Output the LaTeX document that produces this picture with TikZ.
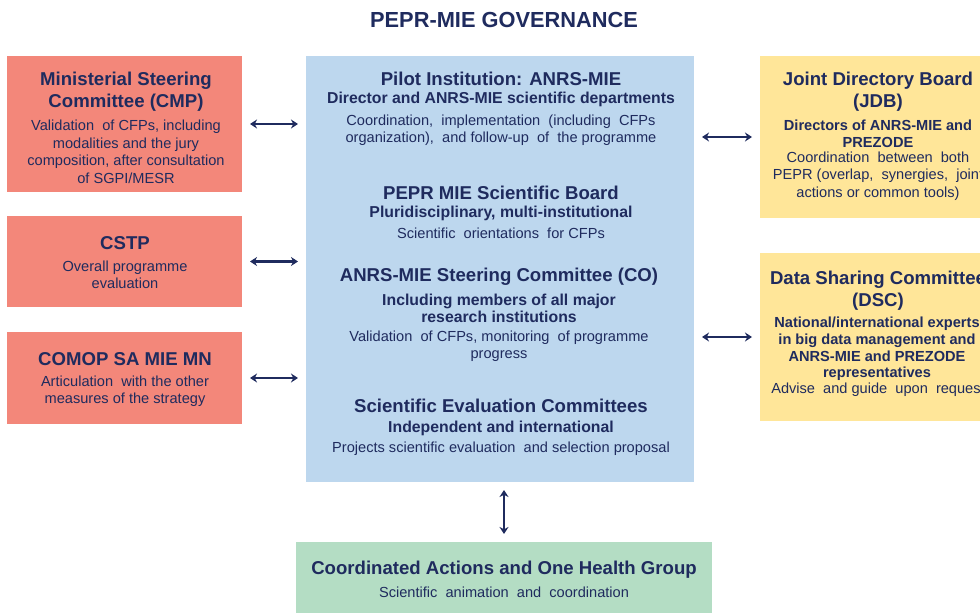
\documentclass[tikz,border=0pt]{standalone}
\usepackage{fontspec}
\setmainfont{Liberation Sans}
\usetikzlibrary{arrows.meta}

\definecolor{navy}{HTML}{1F2B5E}
\definecolor{salmon}{HTML}{F3877A}
\definecolor{paleblue}{HTML}{BDD7EE}
\definecolor{paleyellow}{HTML}{FFE699}
\definecolor{mint}{HTML}{B4DDC4}

\tikzset{
  box/.style={rectangle, inner sep=0pt, outer sep=0pt, anchor=north west},
  head/.style={text=navy, align=center, inner sep=0pt, font=\bfseries\fontsize{18.6}{22}\selectfont},
  sub/.style={text=navy, align=center, inner sep=0pt, font=\bfseries\fontsize{15.8}{16.7}\selectfont},
  smallsub/.style={sub, font=\bfseries\fontsize{14.6}{16.7}\selectfont},
  body/.style={text=navy, align=center, inner sep=0pt, font=\fontsize{14.6}{17.5}\selectfont},
  link/.style={navy, line width=2.2pt, {Stealth[length=7pt,width=9pt]}-{Stealth[length=7pt,width=9pt]}, shorten <=8pt, shorten >=8pt}
}

\begin{document}
\begin{tikzpicture}[x=1pt, y=-1pt]
  \useasboundingbox (0,0) rectangle (980,613);
  \clip (0,0) rectangle (980,613);

  % Titel
  \node[text=navy, inner sep=0pt, font=\bfseries\fontsize{21.8}{24}\selectfont] (title) at (504,20) {PEPR-MIE GOVERNANCE};

  % Boksene til venstre
  \node[box, fill=salmon, minimum width=235pt, minimum height=136pt] (cmp) at (7,56) {};
  \node[head] (cmphead) at (126,92) {Ministerial Steering\\Committee (CMP)};
  \node[body] (cmpbody) at (126,152) {Validation\ \ of CFPs, including\\modalities and the jury\\composition, after consultation\\of SGPI/MESR};

  \node[box, fill=salmon, minimum width=235pt, minimum height=91pt] (cstp) at (7,216) {};
  \node[head] (cstphead) at (125,243) {CSTP};
  \node[body] (cstpbody) at (125,275) {Overall programme\\evaluation};

  \node[box, fill=salmon, minimum width=235pt, minimum height=92pt] (comop) at (7,332) {};
  \node[head] (comophead) at (125,359) {COMOP SA MIE MN};
  \node[body] (comopbody) at (125,391) {Articulation\ \ with the other\\measures of the strategy};

  % Den store boksen i midten
  \node[box, fill=paleblue, minimum width=388pt, minimum height=426pt] (mie) at (306,56) {};
  \node[head] (pilothead) at (501,79) {Pilot Institution: ANRS-MIE};
  \node[sub] (pilotsub) at (501,99) {Director and ANRS-MIE scientific departments};
  \node[body] (pilotbody) at (501,130) {Coordination,\ \ implementation\ \ (including\ \ CFPs\\organization),\ \ and follow-up\ \ of\ \ the programme};

  \node[head] (boardhead) at (501,193) {PEPR MIE Scientific Board};
  \node[sub] (boardsub) at (501,213) {Pluridisciplinary, multi-institutional};
  \node[body] (boardbody) at (501,233) {Scientific\ \ orientations\ \ for CFPs};

  \node[head] (cohead) at (499,277) {ANRS-MIE Steering Committee (CO)};
  \node[sub] (cosub) at (499,308) {Including members of all major\\research institutions};
  \node[body] (cobody) at (499,346) {Validation\ \ of CFPs, monitoring\ \ of programme\\progress};

  \node[head] (evalhead) at (501,406) {Scientific Evaluation Committees};
  \node[sub] (evalsub) at (501,428) {Independent and international};
  \node[body] (evalbody) at (501,449) {Projects\ scientific\ evaluation\ \ and selection\ proposal};

  % Boksene til hoyre
  \node[box, fill=paleyellow, minimum width=240pt, minimum height=162pt] (jdb) at (760,56) {};
  \node[head] (jdbhead) at (878,92) {Joint Directory Board\\(JDB)};
  \node[smallsub] (jdbsub) at (878,134) {Directors of ANRS-MIE and\\PREZODE};
  \node[body] (jdbbody) at (878,176) {Coordination\ \ between\ \ both\\PEPR (overlap,\ \ synergies,\ \ joint\\actions or common tools)};

  \node[box, fill=paleyellow, minimum width=240pt, minimum height=168pt] (dsc) at (760,253) {};
  \node[head] (dschead) at (878,291) {Data Sharing Committee\\(DSC)};
  \node[smallsub] (dscsub) at (877,349) {National/international experts\\in big data management and\\ANRS-MIE and PREZODE\\representatives};
  \node[body] (dscbody) at (878,390) {Advise\ \ and guide\ \ upon\ \ request};

  % Boksen nederst
  \node[box, fill=mint, minimum width=416pt, minimum height=80pt] (cah) at (296,542) {};
  \node[head] (cahhead) at (504,570) {Coordinated Actions and One Health Group};
  \node[body] (cahbody) at (504,592) {Scientific\ \ animation\ \ and\ \ coordination};

  % Piler
  \draw[link] (cmp.east) -- (cmp.east -| mie.west);
  \draw[link] (cstp.east) -- (cstp.east -| mie.west);
  \draw[link] (comop.east) -- (comop.east -| mie.west);
  \draw[link] (mie.east |- jdb.west) -- (jdb.west);
  \draw[link] (mie.east |- dsc.west) -- (dsc.west);
  \draw[link] (mie.south -| cahhead) -- (cah.north -| cahhead);
\end{tikzpicture}
\end{document}
